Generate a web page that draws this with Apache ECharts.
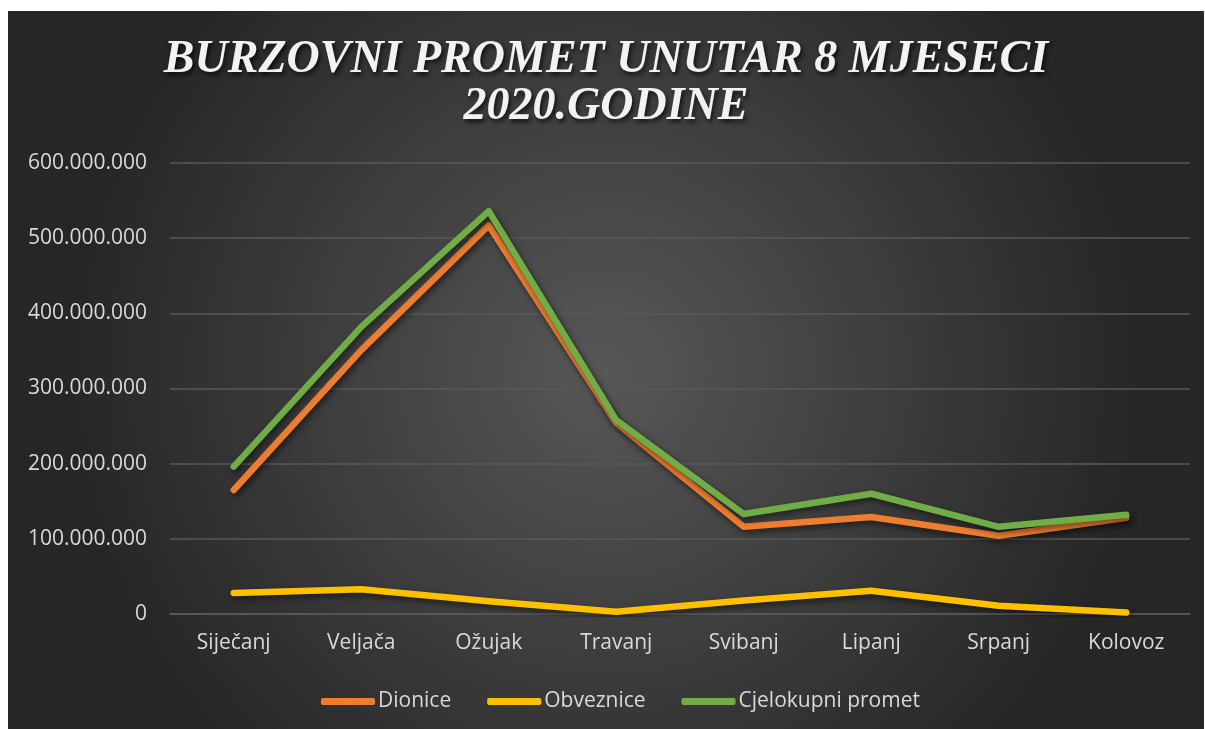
<!DOCTYPE html>
<html>
<head>
<meta charset="utf-8">
<script src="https://cdn.jsdelivr.net/npm/echarts@6/dist/echarts.min.js"></script>
<style>
  html, body { margin: 0; padding: 0; background: #ffffff; }
  #burzaChart { position: absolute; left: 8px; top: 11px; width: 1196px; height: 718px; }
</style>
</head>
<body>
<div id="burzaChart"></div>
<script>
var mjeseci = ["Siječanj", "Veljača", "Ožujak", "Travanj", "Svibanj", "Lipanj", "Srpanj", "Kolovoz"];
var dionice = [165000000, 351000000, 517000000, 254000000, 116000000, 129000000, 104000000, 128000000];
var obveznice = [28000000, 33000000, 17000000, 3000000, 18000000, 31000000, 11000000, 2000000];
var cjelokupniPromet = [196000000, 382000000, 536000000, 258000000, 133000000, 160000000, 116000000, 132000000];

function buatBurzaChart() {
  var burzaChart = echarts.init(document.getElementById("burzaChart"));

  function formatBroj(v) {
    return String(v).replace(/\B(?=(\d{3})+(?!\d))/g, ".");
  }

  var sjena = {
    shadowColor: "rgba(0,0,0,0.55)",
    shadowBlur: 6,
    shadowOffsetX: 2,
    shadowOffsetY: 3,
  };

  var option = {
    backgroundColor: {
      type: "radial",
      x: 0.5,
      y: 0.5,
      r: 0.75,
      colorStops: [
        { offset: 0, color: "#575757" },
        { offset: 1, color: "#262626" },
      ],
    },
    title: {
      text: "BURZOVNI PROMET UNUTAR 8 MJESECI\n2020.GODINE",
      left: "center",
      top: 21,
      textStyle: {
        fontFamily: "Liberation Serif",
        fontStyle: "italic",
        fontWeight: "bold",
        fontSize: 46,
        lineHeight: 47,
        color: "#f2f2f2",
        textShadowColor: "rgba(0,0,0,0.7)",
        textShadowBlur: 4,
        textShadowOffsetX: 2,
        textShadowOffsetY: 3,
      },
    },
    legend: {
      bottom: 12,
      left: 308,
      itemWidth: 54,
      itemHeight: 7,
      itemGap: 36,
      icon: "roundRect",
      textStyle: {
        color: "#d9d9d9",
        fontFamily: "Open Sans",
        fontSize: 21,
        padding: [0, 0, 0, -2],
      },
      data: ["Dionice", "Obveznice", "Cjelokupni promet"],
    },
    grid: {
      left: 162,
      right: 14,
      top: 152,
      bottom: 115,
    },
    xAxis: {
      type: "category",
      data: mjeseci,
      axisLine: { lineStyle: { color: "#595959", width: 1.5 } },
      axisTick: { show: false },
      axisLabel: {
        color: "#d9d9d9",
        fontFamily: "Open Sans",
        fontSize: 21,
        margin: 19,
      },
    },
    yAxis: {
      type: "value",
      min: 0,
      max: 600000000,
      interval: 100000000,
      axisLine: { show: false },
      axisTick: { show: false },
      splitLine: { lineStyle: { color: "#595959", width: 1.5 } },
      axisLabel: {
        color: "#d9d9d9",
        fontFamily: "Open Sans",
        fontSize: 21,
        margin: 23,
        formatter: formatBroj,
      },
    },
    series: [
      {
        name: "Dionice",
        type: "line",
        data: dionice,
        symbol: "none",
        color: "#ED7D31",
        lineStyle: Object.assign({ width: 6.5, color: "#ED7D31", cap: "round", join: "round" }, sjena),
      },
      {
        name: "Obveznice",
        type: "line",
        data: obveznice,
        symbol: "none",
        color: "#FFC000",
        lineStyle: Object.assign({ width: 6.5, color: "#FFC000", cap: "round", join: "round" }, sjena),
      },
      {
        name: "Cjelokupni promet",
        type: "line",
        data: cjelokupniPromet,
        symbol: "none",
        color: "#70AD47",
        lineStyle: Object.assign({ width: 6.5, color: "#70AD47", cap: "round", join: "round" }, sjena),
      },
    ],
    animation: false,
  };

  burzaChart.setOption(option);
}

buatBurzaChart();
</script>
</body>
</html>
